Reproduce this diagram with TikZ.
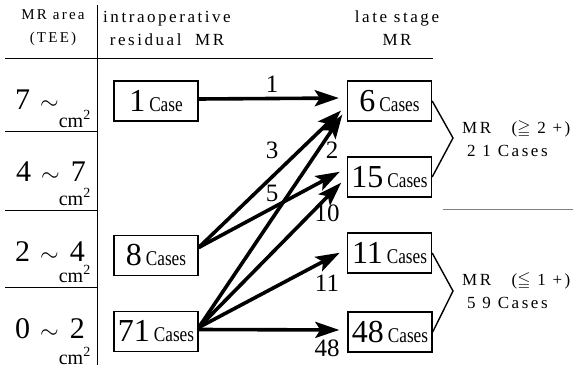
\RequirePackage{fix-cm}
\documentclass[tikz,border=0pt]{standalone}
\usepackage{fontspec}
\setmainfont{Liberation Serif}
\usepackage{amssymb}
\usepackage{graphicx}
\usetikzlibrary{arrows.meta}
\newfontfamily\hdfont[LetterSpace=15]{Liberation Serif}
\newfontfamily\narrowfont[FakeStretch=0.82]{Liberation Serif}
% so ca trong hop: so lon + chu "Cases" hep
\newcommand{\nCase}[2]{{\fontsize{32}{32}\selectfont #1}\hspace{4pt}{\narrowfont\fontsize{21}{21}\selectfont #2}}
% dau ~ nho hon, co khoang cach
\newcommand{\til}{\hspace{10pt}\scalebox{0.8}{$\sim$}\hspace{11pt}}

\begin{document}
\begin{tikzpicture}[x=1pt, y=-1pt,
    casebox/.style={draw, line width=1.4pt, minimum width=84pt, minimum height=40pt, inner sep=0pt},
    flow/.style={line width=3.6pt, -{Stealth[length=24pt, width=16pt, inset=5pt]}, shorten >=8pt},
    cnt/.style={font=\fontsize{25}{25}\selectfont, inner sep=0pt},
    hd/.style={font=\hdfont\fontsize{17}{23}\selectfont, align=center, inner sep=0pt},
    rowlbl/.style={font=\fontsize{30}{30}\selectfont, anchor=base west, inner sep=0pt, text depth=0pt},
    unit/.style={font=\fontsize{20}{20}\selectfont, anchor=base east, inner sep=0pt},
    rule/.style={line width=0.9pt}]
    \useasboundingbox (0,0) rectangle (576,369);

    % Tieu de cac cot
    \node[hd, font=\hdfont\fontsize{15}{23}\selectfont] (hArea) at (53,28) {MR area\\(TEE)};
    \node[hd] (hIntra) at (167,28) {intraoperative\\residual\ \ MR};
    \node[hd] (hLate) at (397,28) {late stage\\MR};

    % Duong ke bang
    \draw[rule] (97,5) -- (97,365); % duong doc
    \draw[rule] (5,58) -- (433,58); % duong ngang duoi tieu de
    \draw[rule] (5,131) -- (97,131);
    \draw[rule] (5,210) -- (97,210);
    \draw[rule] (5,287) -- (97,287);
    \draw[gray, line width=0.9pt] (443,209) -- (573,209);

    % Dien tich MR
    \node[rowlbl] (r1) at (15,110) {7\til};
    \node[unit] (u1) at (91,127) {cm\textsuperscript{2}};
    \node[rowlbl] (r2) at (16,181) {4\til 7};
    \node[unit] (u2) at (91,205) {cm\textsuperscript{2}};
    \node[rowlbl] (r3) at (15,261) {2\til 4};
    \node[unit] (u3) at (91,282) {cm\textsuperscript{2}};
    \node[rowlbl] (r4) at (15,338) {0\til 2};
    \node[unit] (u4) at (91,364) {cm\textsuperscript{2}};

    % Hop cot trai (intraoperative)
    \node[casebox] (one) at (156,101) {\nCase{1}{Case}};
    \node[casebox] (eight) at (156,255.5) {\nCase{8}{Cases}};
    \node[casebox] (seventyone) at (156,331.5) {\nCase{71}{Cases}};

    % Hop cot phai (late stage)
    \node[casebox] (six) at (389.5,101) {\nCase{6}{Cases}};
    \node[casebox] (fifteen) at (389.5,177) {\nCase{15}{Cases}};
    \node[casebox] (eleven) at (389.5,253) {\nCase{11}{Cases}};
    \node[casebox] (fortyeight) at (390,332) {\nCase{48}{Cases}};

    % Mui ten
    \draw[flow] ([yshift=2pt]one.east) -- ([yshift=3pt]six.west);
    \draw[flow] ([yshift=8pt]eight.east) -- ([yshift=-4pt]six.west);
    \draw[flow] ([yshift=8pt]eight.east) -- ([yshift=9pt]fifteen.west);
    \draw[flow] ([yshift=4pt]seventyone.east) -- ([yshift=-7pt]six.west);
    \draw[flow] ([yshift=4pt]seventyone.east) -- ([yshift=0pt]fifteen.west);
    \draw[flow] ([yshift=4pt]seventyone.east) -- ([yshift=4pt]eleven.west);
    \draw[flow] ([yshift=2pt]seventyone.east) -- ([yshift=2pt]fortyeight.west);

    % So ca tren mui ten
    \node[cnt] (n1) at (272,84) {1};
    \node[cnt] (n3) at (272,150) {3};
    \node[cnt] (n2) at (332,150) {2};
    \node[cnt] (n5) at (272,193) {5};
    \node[cnt] (n10) at (327,213) {10};
    \node[cnt] (n11) at (327,283) {11};
    \node[cnt] (n48) at (327,348) {48};

    % Ngoac gop nhom
    \coordinate (tipA) at (453,138);
    \coordinate (tipB) at (453,291);
    \draw[line width=1.4pt] (six.east) -- (tipA) -- (fifteen.east);
    \draw[line width=1.4pt] (eleven.east) -- (tipB) -- (fortyeight.east);

    \node[hd, anchor=west] (gHigh) at (462,129) {MR\ \ \ ($\geqq$\ 2\ +)};
    \node[hd, anchor=west] (gHighN) at (467,151) {2\ 1\ Cases};
    \node[hd, anchor=west] (gLow) at (462,281) {MR\ \ \ ($\leqq$\ 1\ +)};
    \node[hd, anchor=west] (gLowN) at (467,303) {5\ 9\ Cases};
\end{tikzpicture}
\end{document}
